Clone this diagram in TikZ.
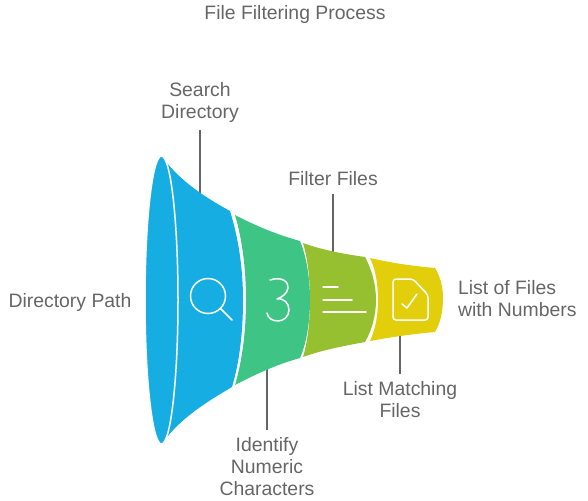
\documentclass[tikz,border=0pt]{standalone}
\usepackage{xcolor,tikz}
\usepackage{fontspec}
\setmainfont{Liberation Sans}
\definecolor{bandblue}{HTML}{16AEE2}
\definecolor{bandgreen}{HTML}{3EC585}
\definecolor{bandlime}{HTML}{97C031}
\definecolor{bandyellow}{HTML}{E3CE0B}
\definecolor{labelgray}{HTML}{666666}
\begin{document}
\begin{tikzpicture}[x=1pt,y=-1pt,
    label/.style={text=labelgray, font=\fontsize{19.4}{22}\selectfont, align=center, inner sep=0pt, outer sep=8pt},
    leader/.style={draw=labelgray, line width=1.5pt},
    icon/.style={draw=white, line width=1.5pt, line cap=round, line join=round}]
    \useasboundingbox (0,0) rectangle (588,500);

    \node (title) [label] at (295,14) {File Filtering Process};
    \node (path) [label] at (70,302) {Directory Path};
    \node (search) [label] at (200,102) {Search\\Directory};
    \node (filter) [label] at (333,179) {Filter Files};
    \node (identify) [label] at (267,467) {Identify\\Numeric\\Characters};
    \node (matching) [label] at (400,400) {List Matching\\Files};
    \node (result) [label, align=left, anchor=west, outer sep=0pt] at (458,299) {List of Files\\with Numbers};

    \coordinate (searchend) at (200,195);
    \coordinate (filterend) at (333,252);
    \coordinate (identifyend) at (267,368);
    \coordinate (matchingend) at (400,335);
    \draw[leader] (search) -- (searchend);
    \draw[leader] (filter) -- (filterend);
    \draw[leader] (identify) -- (identifyend);
    \draw[leader] (matching) -- (matchingend);

    \fill[bandyellow] (370,258) .. controls (392,263) and (412,266) .. (435,268)
        .. controls (441,278) and (443,288) .. (443,298)
        .. controls (443,310) and (441,322) .. (435,332)
        .. controls (412,334) and (392,337) .. (370,341)
        .. controls (376,328) and (378,314) .. (378,300)
        .. controls (378,286) and (376,270) .. (370,258) -- cycle;
    \fill[bandlime] (303,243) .. controls (322,250) and (344,254) .. (365,257)
        .. controls (372,270) and (376,285) .. (376,300)
        .. controls (376,315) and (372,330) .. (365,342)
        .. controls (344,346) and (322,350) .. (303,357)
        .. controls (308,340) and (310,320) .. (310,300)
        .. controls (310,280) and (308,260) .. (303,243) -- cycle;
    \fill[bandgreen] (235,215) .. controls (256,226) and (278,235) .. (300,241)
        .. controls (307,258) and (310,280) .. (310,300)
        .. controls (310,320) and (307,342) .. (300,358)
        .. controls (278,364) and (256,374) .. (235,385)
        .. controls (243,358) and (246,328) .. (246,300)
        .. controls (246,272) and (243,242) .. (235,215) -- cycle;
    \fill[bandblue] (167,163) .. controls (185,185) and (210,200) .. (230,211)
        .. controls (239,240) and (243,270) .. (243,300)
        .. controls (243,330) and (240,360) .. (232,387)
        .. controls (210,400) and (185,415) .. (167,437)
        .. controls (172,400) and (175,350) .. (175,300)
        .. controls (175,250) and (172,200) .. (167,163) -- cycle;
    \draw[fill=bandblue, draw=white, line width=1.5pt] (161.5,300) ellipse [x radius=16.5pt, y radius=144pt];

    \draw[icon] (208,296) circle [radius=17.5pt];
    \draw[icon] (220.5,308.5) -- (232,320);
    \draw[icon] (270,280) .. controls (282,276) and (289,282) .. (288,288) .. controls (287,294) and (282,297) .. (277,299)
        .. controls (284,298) and (289,303) .. (289,310)
        .. controls (289,317) and (283,321) .. (278,321) .. controls (272,321) and (268,318) .. (267,313);
    \draw[icon] (323,287) -- (338,287);
    \draw[icon] (323,300) -- (352,300);
    \draw[icon] (323,312) -- (366,312);
    \draw[icon, rounded corners=3pt] (393,279) -- (413,279) -- (428,295) -- (428,320) -- (393,320) -- cycle;
    \draw[icon] (402,304) -- (407,308) -- (417,294);
\end{tikzpicture}
\end{document}
